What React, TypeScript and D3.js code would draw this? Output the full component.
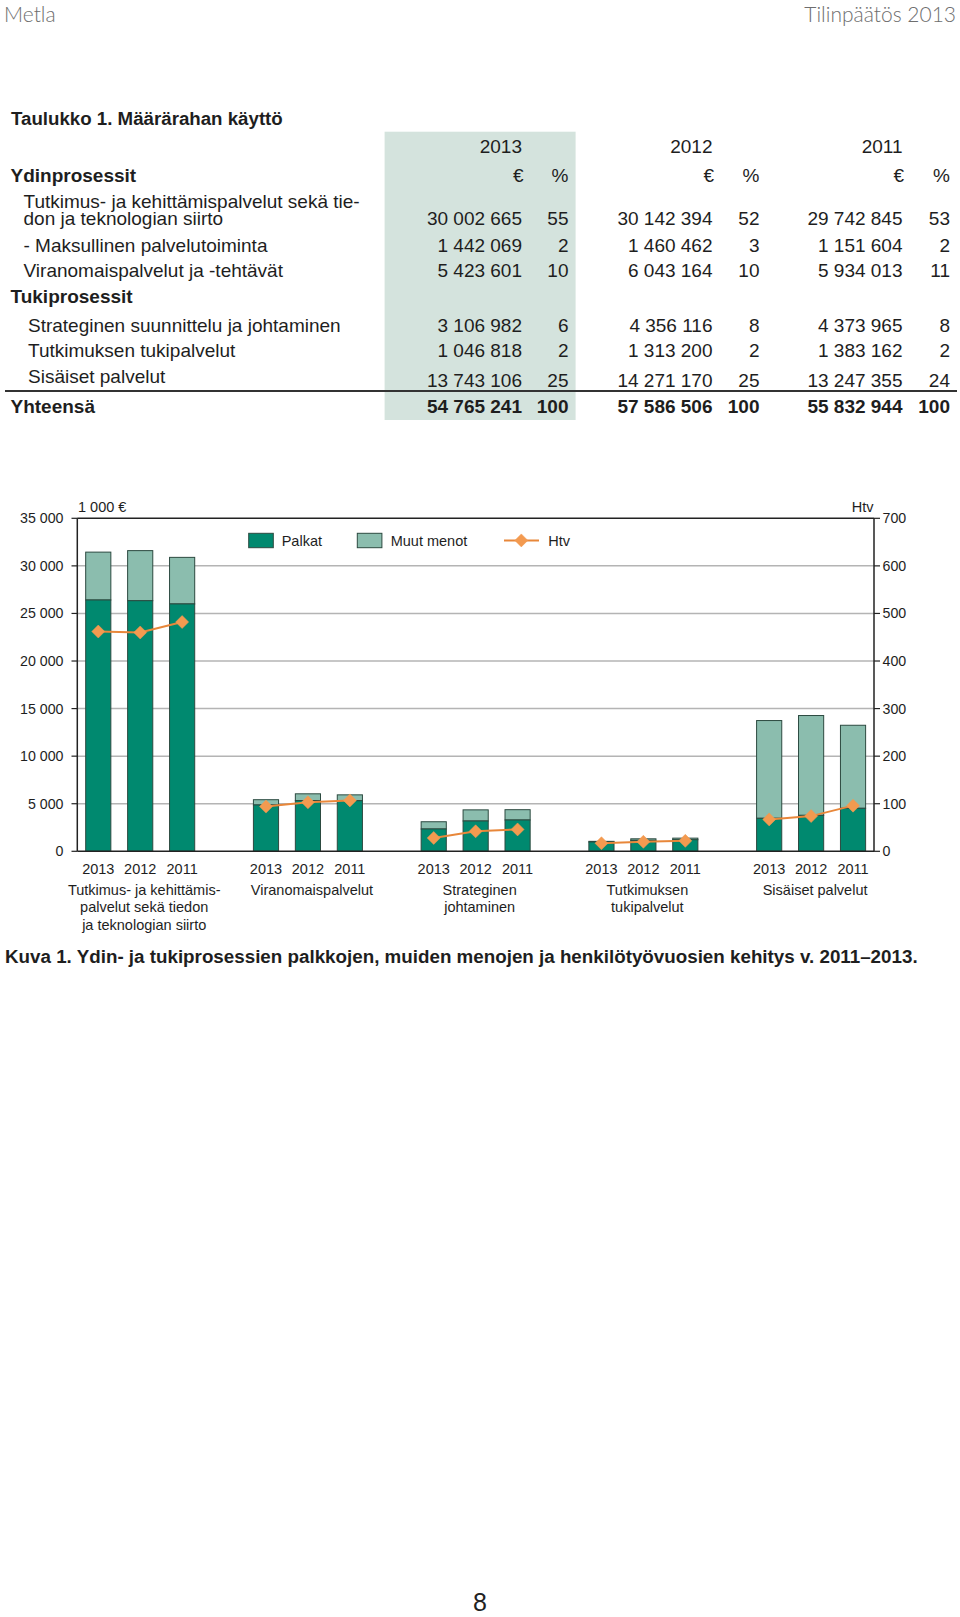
import React from "react";
import * as d3 from "d3";

// ---------- Table data ----------
const tableTitle = "Taulukko 1. Määrärahan käyttö";
const tableYears = ["2013", "2012", "2011"];
const rowLabels = [
  ["Tutkimus- ja kehittämispalvelut sekä tie-", "don ja teknologian siirto"],
  ["- Maksullinen palvelutoiminta"],
  ["Viranomaispalvelut ja -tehtävät"],
  ["Strateginen suunnittelu ja johtaminen"],
  ["Tutkimuksen tukipalvelut"],
  ["Sisäiset palvelut"],
  ["Yhteensä"],
];
const eur2013 = [30002665, 1442069, 5423601, 3106982, 1046818, 13743106, 54765241];
const pct2013 = [55, 2, 10, 6, 2, 25, 100];
const eur2012 = [30142394, 1460462, 6043164, 4356116, 1313200, 14271170, 57586506];
const pct2012 = [52, 3, 10, 8, 2, 25, 100];
const eur2011 = [29742845, 1151604, 5934013, 4373965, 1383162, 13247355, 55832944];
const pct2011 = [53, 2, 11, 8, 2, 24, 100];

// ---------- Chart data ----------
const years = ["2013", "2012", "2011"];
const groupLabels = [
  ["Tutkimus- ja kehittämis-", "palvelut sekä tiedon", "ja teknologian siirto"],
  ["Viranomaispalvelut"],
  ["Strateginen", "johtaminen"],
  ["Tutkimuksen", "tukipalvelut"],
  ["Sisäiset palvelut"],
];
const palkat = [
  [26414, 26340, 26000],
  [4870, 5330, 5320],
  [2345, 3185, 3290],
  [980, 1150, 1220],
  [3470, 3780, 4520],
];
const muutMenot = [
  [5031, 5263, 4894],
  [554, 713, 614],
  [762, 1171, 1084],
  [67, 163, 163],
  [10273, 10491, 8727],
];
const htv = [
  [462, 460, 482],
  [94, 103, 107],
  [28, 42, 46],
  [17, 20, 22],
  [67, 74, 96],
];
const leftTicks = [0, 5000, 10000, 15000, 20000, 25000, 30000, 35000];
const rightTicks = [0, 100, 200, 300, 400, 500, 600, 700];
const legendLabels = ["Palkat", "Muut menot", "Htv"];
const caption =
  "Kuva 1. Ydin- ja tukiprosessien palkkojen, muiden menojen ja henkilötyövuosien kehitys v. 2011–2013.";

const FONT = "'Liberation Sans', Arial, Helvetica, sans-serif";
const DARK = "#00896f";
const LIGHT = "#8bbdae";
const EDGE = "#2c4a40";
const ORANGE_LINE = "#e8873a";
const ORANGE_PT = "#f39a50";
const GRID = "#b4b4b4";
const TXT = "#1e1e1e";

const loc = d3.formatLocale({ decimal: ",", thousands: "\u2009", grouping: [3], currency: ["", "€"] });
const fmt = (v: number) => loc.format(",d")(v).replace(/\u2009/g, " ");

export default function App() {
  // ---------- chart scales ----------
  const x0 = 77.3, x1 = 874;
  const yTop = 518.3, yBot = 851.3;
  const slots: string[] = [];
  groupLabels.forEach((_, g) => {
    years.forEach((_, i) => slots.push(`${g}-${i}`));
    if (g < groupLabels.length - 1) slots.push(`gap-${g}`);
  });
  const x = d3.scaleBand<string>().domain(slots).range([x0, x1]).paddingInner(0.4).paddingOuter(0.2);
  const yL = d3.scaleLinear().domain([0, 35000]).range([yBot, yTop]);
  const yR = d3.scaleLinear().domain([0, 700]).range([yBot, yTop]);
  const bw = x.bandwidth();
  const cx = (g: number, i: number) => (x(`${g}-${i}`) as number) + bw / 2;
  const line = d3.line<[number, number]>().x((d) => d[0]).y((d) => d[1]);

  const diamond = (px: number, py: number, r: number, key: string) => (
    <path
      key={key}
      d={`M${px},${py - r}L${px + r},${py}L${px},${py + r}L${px - r},${py}Z`}
      fill={ORANGE_PT}
      stroke={ORANGE_PT}
      strokeWidth={0.5}
    />
  );

  // ---------- table layout ----------
  const rowBase = [225, 251.7, 276.7, 331.7, 356.7, 386.7, 413.3];
  const labelBase = [208.3, 251.7, 276.7, 331.7, 356.7, 382.7, 413.3];
  const labelX = [23.5, 23.5, 23.5, 28, 28, 28, 10.5];
  const cols = [
    { e: eur2013, p: pct2013, eX: 522, pX: 568.5 },
    { e: eur2012, p: pct2012, eX: 712.5, pX: 759.5 },
    { e: eur2011, p: pct2011, eX: 902.5, pX: 950 },
  ];
  const tFS = 19;
  const cFS = 14.5;

  return (
    <div style={{ position: "absolute", left: 0, top: 0, width: 960, height: 1617, background: "#fff" }}>
      <svg width={960} height={1617} style={{ display: "block" }} fontFamily={FONT}>
        <rect x={0} y={0} width={960} height={1617} fill="#fff" />
        {/* page header */}
        <text x={4} y={21.7} fontFamily="Lato, 'Open Sans', sans-serif" fontWeight={300} fontSize={21} fill="#6e6e6e">
          Metla
        </text>
        <text x={956} y={21.7} textAnchor="end" fontFamily="Lato, 'Open Sans', sans-serif" fontWeight={300} fontSize={21} fill="#6e6e6e">
          Tilinpäätös 2013
        </text>

        {/* table */}
        <text x={11} y={125} fontWeight="bold" fontSize={18.7} fill={TXT}>
          {tableTitle}
        </text>
        <rect x={384.6} y={131.7} width={191} height={288.3} fill="#d4e3dd" />
        {cols.map((c, k) => (
          <g key={`hdr${k}`} fontSize={tFS} fill={TXT}>
            <text x={c.eX} y={153.3} textAnchor="end">{tableYears[k]}</text>
            <text x={c.eX + 1.5} y={181.7} textAnchor="end">€</text>
            <text x={c.pX} y={181.7} textAnchor="end">%</text>
          </g>
        ))}
        <text x={10.5} y={181.7} fontWeight="bold" fontSize={tFS} fill={TXT}>Ydinprosessit</text>
        <text x={10.5} y={303.3} fontWeight="bold" fontSize={tFS} fill={TXT}>Tukiprosessit</text>
        {rowLabels.map((lab, r) => (
          <text
            key={`lab${r}`}
            x={labelX[r]}
            y={labelBase[r]}
            fontSize={tFS}
            fontWeight={r === rowLabels.length - 1 ? "bold" : "normal"}
            fill={TXT}
          >
            {lab.map((s, j) => (
              <tspan key={j} x={labelX[r]} dy={j === 0 ? 0 : 16.7}>
                {s}
              </tspan>
            ))}
          </text>
        ))}
        {cols.map((c, k) =>
          rowBase.map((yb, r) => (
            <g key={`v${k}-${r}`} fontSize={tFS} fill={TXT} fontWeight={r === rowBase.length - 1 ? "bold" : "normal"}>
              <text x={c.eX} y={yb} textAnchor="end">{fmt(c.e[r])}</text>
              <text x={c.pX} y={yb} textAnchor="end">{c.p[r]}</text>
            </g>
          ))
        )}
        <line x1={5} x2={957} y1={391} y2={391} stroke="#333" strokeWidth={2} />

        {/* chart gridlines */}
        {leftTicks.slice(1, -1).map((t) => (
          <line key={`g${t}`} x1={x0} x2={x1} y1={yL(t)} y2={yL(t)} stroke={GRID} strokeWidth={1.5} />
        ))}

        {/* bars */}
        {palkat.map((gv, g) =>
          gv.map((v, i) => {
            const bx = x(`${g}-${i}`) as number;
            const tot = v + muutMenot[g][i];
            return (
              <g key={`b${g}-${i}`}>
                <rect x={bx} y={yL(tot)} width={bw} height={yL(v) - yL(tot)} fill={LIGHT} stroke={EDGE} strokeWidth={1} />
                <rect x={bx} y={yL(v)} width={bw} height={yL(0) - yL(v)} fill={DARK} stroke={EDGE} strokeWidth={1} />
              </g>
            );
          })
        )}

        {/* htv lines */}
        {htv.map((gv, g) => (
          <g key={`h${g}`}>
            <path
              d={line(gv.map((v, i) => [cx(g, i), yR(v)] as [number, number])) as string}
              fill="none"
              stroke={ORANGE_LINE}
              strokeWidth={2}
            />
            {gv.map((v, i) => diamond(cx(g, i), yR(v), 6.5, `d${g}-${i}`))}
          </g>
        ))}

        {/* frame / axes */}
        <line x1={x0} x2={x1} y1={yTop} y2={yTop} stroke="#222" strokeWidth={1.5} />
        <line x1={x0} x2={x1} y1={yBot} y2={yBot} stroke="#222" strokeWidth={1.5} />
        <line x1={x0} x2={x0} y1={yTop} y2={yBot} stroke="#222" strokeWidth={1.5} />
        <line x1={x1} x2={x1} y1={yTop} y2={yBot} stroke="#222" strokeWidth={1.5} />
        {leftTicks.map((t) => (
          <g key={`lt${t}`}>
            <line x1={71.5} x2={x0} y1={yL(t)} y2={yL(t)} stroke="#222" strokeWidth={1.2} />
            <text x={63.5} y={yL(t) + 5} textAnchor="end" fontSize={14.2} fill={TXT}>
              {fmt(t)}
            </text>
          </g>
        ))}
        {rightTicks.map((t) => (
          <g key={`rt${t}`}>
            <line x1={x1} x2={880} y1={yR(t)} y2={yR(t)} stroke="#222" strokeWidth={1.2} />
            <text x={882.5} y={yR(t) + 5} fontSize={14.2} fill={TXT}>
              {t}
            </text>
          </g>
        ))}
        <text x={78} y={511.5} fontSize={cFS} fill={TXT}>1 000 €</text>
        <text x={873.5} y={511.5} textAnchor="end" fontSize={cFS} fill={TXT}>Htv</text>

        {/* x labels */}
        {groupLabels.map((lines, g) => (
          <g key={`xl${g}`} fontSize={cFS} fill={TXT}>
            {years.map((yr, i) => (
              <text key={yr} x={cx(g, i)} y={874.3} textAnchor="middle">{yr}</text>
            ))}
            <text x={cx(g, 1) + 4} y={894.5} textAnchor="middle">
              {lines.map((s, j) => (
                <tspan key={j} x={cx(g, 1) + 4} dy={j === 0 ? 0 : 17.5}>
                  {s}
                </tspan>
              ))}
            </text>
          </g>
        ))}

        {/* legend */}
        <rect x={248.7} y={533.3} width={24.6} height={14.4} fill={DARK} stroke={EDGE} strokeWidth={1} />
        <text x={281.7} y={545.8} fontSize={cFS} fill={TXT}>{legendLabels[0]}</text>
        <rect x={357.3} y={533.3} width={24.6} height={14.4} fill={LIGHT} stroke={EDGE} strokeWidth={1} />
        <text x={390.7} y={545.8} fontSize={cFS} fill={TXT}>{legendLabels[1]}</text>
        <line x1={504} x2={539} y1={540.4} y2={540.4} stroke={ORANGE_LINE} strokeWidth={2} />
        {diamond(521.3, 540.4, 6.5, "legd")}
        <text x={548.3} y={545.8} fontSize={cFS} fill={TXT}>{legendLabels[2]}</text>

        {/* caption */}
        <text x={5} y={963.3} fontWeight="bold" fontSize={18.8} fill={TXT}>{caption}</text>

        {/* page number */}
        <text x={480} y={1611} textAnchor="middle" fontSize={25} fill="#222">8</text>
      </svg>
    </div>
  );
}
